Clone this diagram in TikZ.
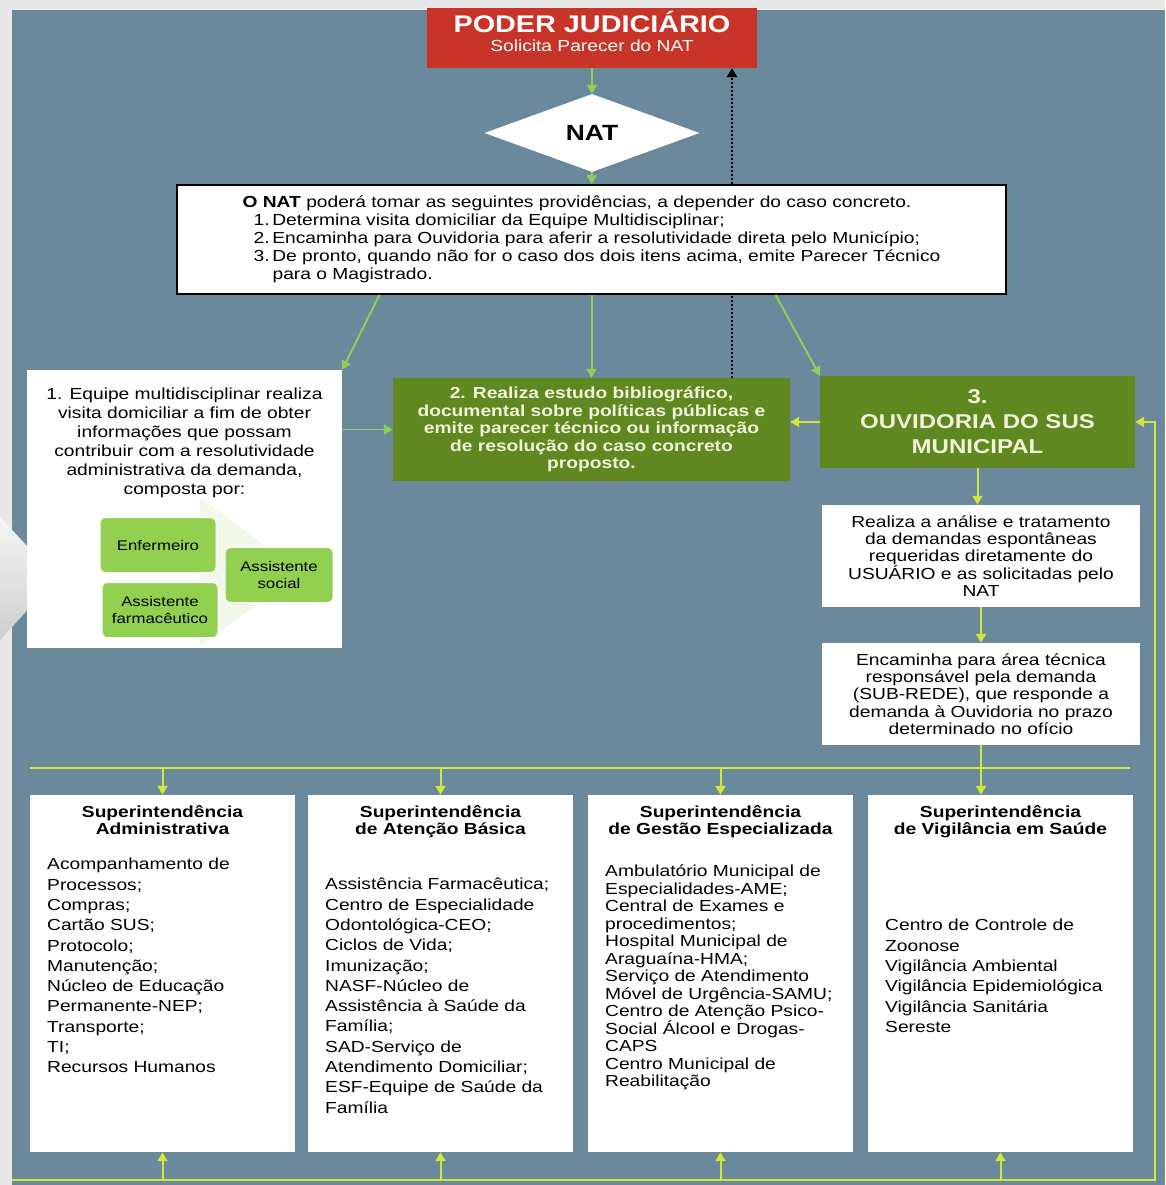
\documentclass[tikz,border=0pt]{standalone}
\usepackage{fontspec}
\setmainfont{Liberation Sans}[FakeStretch=1.2]
\usetikzlibrary{positioning,shapes.geometric,arrows.meta,shadows}

\definecolor{fundo}{RGB}{232,232,232}
\definecolor{painel}{RGB}{106,137,156}
\definecolor{judred}{RGB}{200,52,40}
\definecolor{oliva}{RGB}{96,136,32}
\definecolor{verdeclaro}{RGB}{146,208,80}
\definecolor{textoclaro}{RGB}{242,242,218}
\definecolor{setaverde}{RGB}{140,208,90}
\definecolor{seta}{RGB}{208,230,56}

\tikzset{
  sombra/.style={drop shadow={opacity=.3,shadow xshift=2pt,shadow yshift=-2pt}},
  judbox/.style={fill=judred,sombra,minimum width=330pt,minimum height=60pt,inner sep=0pt},
  judtexto/.style={text=white,inner sep=0pt},
  losango/.style={diamond,fill=white,sombra,minimum width=215pt,minimum height=78pt,inner sep=0pt,font=\fontsize{22}{24}\selectfont\bfseries},
  provbox/.style={fill=white,draw=black,line width=1.5pt,sombra,minimum width=829pt,minimum height=109pt,align=left,font=\fontsize{16}{18}\selectfont},
  texto/.style={inner sep=0pt,align=center,font=\fontsize{16}{17.3}\selectfont},
  caixa/.style={texto,fill=white,sombra},
  verdebox/.style={fill=oliva,text=textoclaro,sombra,inner sep=0pt,align=center},
  membro/.style={fill=verdeclaro,draw=white,line width=2pt,rounded corners=6pt,minimum width=117pt,minimum height=56pt,align=center,font=\fontsize{14}{17}\selectfont},
  supbox/.style={fill=white,sombra,minimum width=265pt,minimum height=357pt},
  titulo/.style={inner sep=0pt,align=center,font=\fontsize{16}{17}\selectfont\bfseries},
  lista/.style={anchor=north west,inner sep=0pt,align=left,font=\fontsize{16}{20.3}\selectfont},
  conector/.style={setaverde,line width=2pt,->},
  fluxo/.style={seta,line width=2pt,->},
  retornoseta/.style={black,line width=2.2pt,dash pattern=on 2pt off 2pt}
}

\begin{document}
\begin{tikzpicture}[x=1pt,y=-1pt,>={Triangle[length=9pt,width=10pt]}]
  \useasboundingbox (0,0) rectangle (1165,1185);
  \fill[fundo] (0,0) rectangle (1165,1185);
  \fill[painel] (12,10) rectangle (1165,1185);
  \shade[top color=gray!8,bottom color=gray!38] (0,517) -- (57,578) -- (0,640) -- cycle;

  \node[judbox] (pj) at (592,38) {};
  \node[judtexto,font=\fontsize{24}{26}\selectfont\bfseries] (pjtit) at (592,22) {PODER JUDICIÁRIO};
  \node[judtexto,font=\fontsize{16}{18}\selectfont] (pjsub) at (592,46) {Solicita Parecer do NAT};
  \node[losango] (nat) at (592,133) {NAT};
  \node[provbox] (prov) at (591.5,239.5) {\textbf{O NAT} poderá tomar as seguintes providências, a depender do caso concreto.\\
    \hspace*{11pt}1.\,Determina visita domiciliar da Equipe Multidisciplinar;\\
    \hspace*{11pt}2.\,Encaminha para Ouvidoria para aferir a resolutividade direta pelo Município;\\
    \hspace*{11pt}3.\,De pronto, quando não for o caso dos dois itens acima, emite Parecer Técnico\\
    \hspace*{30pt}para o Magistrado.};

  \node[caixa,minimum width=315pt,minimum height=278pt] (equipe) at (184.5,509) {};
  \fill[verdeclaro!14] (200,498) -- (302,572) -- (200,646) -- cycle;
  \node[texto,font=\fontsize{16}{19}\selectfont] (equipetxt) at (184.5,443) {1. Equipe multidisciplinar realiza\\
    visita domiciliar a fim de obter\\informações que possam\\contribuir com a resolutividade\\
    administrativa da demanda,\\composta por:};
  \node[membro] (enf) at (158,545) {Enfermeiro};
  \node[membro,minimum width=109pt] (assoc) at (279,575) {Assistente\\social};
  \node[membro] (asfarm) at (160,610) {Assistente\\farmacêutico};

  \node[verdebox,minimum width=397pt,minimum height=103pt,font=\fontsize{16}{17.5}\selectfont\bfseries] (estudo) at (591.5,429.5) {2. Realiza estudo bibliográfico,\\
    documental sobre políticas públicas e\\emite parecer técnico ou informação\\
    de resolução do caso concreto\\proposto.};
  \node[verdebox,minimum width=315pt,minimum height=92pt,font=\fontsize{20}{25}\selectfont\bfseries] (ouvid) at (977.5,422) {3.\\OUVIDORIA DO SUS\\MUNICIPAL};
  \node[caixa,minimum width=318pt,minimum height=102pt] (analise) at (981,556) {Realiza a análise e tratamento\\
    da demandas espontâneas\\requeridas diretamente do\\USUÁRIO e as solicitadas pelo\\NAT};
  \node[caixa,minimum width=318pt,minimum height=102pt] (encam) at (981,694) {Encaminha para área técnica\\
    responsável pela demanda\\(SUB-REDE), que responde a\\demanda à Ouvidoria no prazo\\determinado no ofício};

  \node[supbox] (supadm) at (162.5,973.5) {};
  \node[supbox] (supbas) at (440.5,973.5) {};
  \node[supbox] (supges) at (720.5,973.5) {};
  \node[supbox] (supvig) at (1000.5,973.5) {};
  \node[titulo,below=11pt of supadm.north] (admtit) {Superintendência\\Administrativa};
  \node[titulo,below=11pt of supbas.north] (bastit) {Superintendência\\de Atenção Básica};
  \node[titulo,below=11pt of supges.north] (gestit) {Superintendência\\de Gestão Especializada};
  \node[titulo,below=11pt of supvig.north] (vigtit) {Superintendência\\de Vigilância em Saúde};
  \node[lista] (admlst) at (47,858) {Acompanhamento de\\Processos;\\Compras;\\Cartão SUS;\\Protocolo;\\
    Manutenção;\\Núcleo de Educação\\Permanente-NEP;\\Transporte;\\TI;\\Recursos Humanos};
  \node[lista] (baslst) at (325,878) {Assistência Farmacêutica;\\Centro de Especialidade\\
    Odontológica-CEO;\\Ciclos de Vida;\\Imunização;\\NASF-Núcleo de\\Assistência à Saúde da\\
    Família;\\SAD-Serviço de\\Atendimento Domiciliar;\\ESF-Equipe de Saúde da\\Família};
  \node[lista,font=\fontsize{16}{17.5}\selectfont] (geslst) at (605,865) {Ambulatório Municipal de\\
    Especialidades-AME;\\Central de Exames e\\procedimentos;\\Hospital Municipal de\\Araguaína-HMA;\\
    Serviço de Atendimento\\Móvel de Urgência-SAMU;\\Centro de Atenção Psico-\\Social Álcool e Drogas-\\
    CAPS\\Centro Municipal de\\Reabilitação};
  \node[lista] (viglst) at (885,919) {Centro de Controle de\\Zoonose\\Vigilância Ambiental\\
    Vigilância Epidemiológica\\Vigilância Sanitária\\Sereste};

  \coordinate (retorno) at (732,378);
  \coordinate (barraesq) at (30,768);
  \coordinate (barradir) at (1130,768);
  \coordinate (baseesq) at (12,1180);
  \coordinate (basedir) at (1155,1180);

  \draw[conector] (pj) -- (nat);
  \draw[conector] (nat) -- (prov);
  \draw[conector] ([xshift=-212pt]prov.south) -- (equipe.north east);
  \draw[conector] (prov) -- (estudo);
  \draw[conector] ([xshift=184pt]prov.south) -- (ouvid.north west);
  \draw[conector,line width=1.3pt] (estudo.west -| equipe.east) -- (estudo.west);
  \draw[retornoseta] (retorno) -- (retorno |- prov.south);
  \draw[retornoseta,->] (retorno |- prov.north) -- (retorno |- pj.south);
  \draw[fluxo] (ouvid.west) -- (ouvid.west -| estudo.east);
  \draw[fluxo] (ouvid.south) -- (ouvid.south |- analise.north);
  \draw[fluxo] (analise) -- (encam);
  \draw[seta,line width=2pt] (barraesq) -- (barradir);
  \draw[fluxo] (encam.south) -- (encam.south |- supvig.north);
  \draw[fluxo] (supadm.north |- barraesq) -- (supadm.north);
  \draw[fluxo] (supbas.north |- barraesq) -- (supbas.north);
  \draw[fluxo] (supges.north |- barraesq) -- (supges.north);
  \draw[fluxo] (baseesq) -- (basedir) |- (ouvid.east);
  \draw[fluxo] (supadm.south |- baseesq) -- (supadm.south);
  \draw[fluxo] (supbas.south |- baseesq) -- (supbas.south);
  \draw[fluxo] (supges.south |- baseesq) -- (supges.south);
  \draw[fluxo] (supvig.south |- baseesq) -- (supvig.south);
\end{tikzpicture}
\end{document}
